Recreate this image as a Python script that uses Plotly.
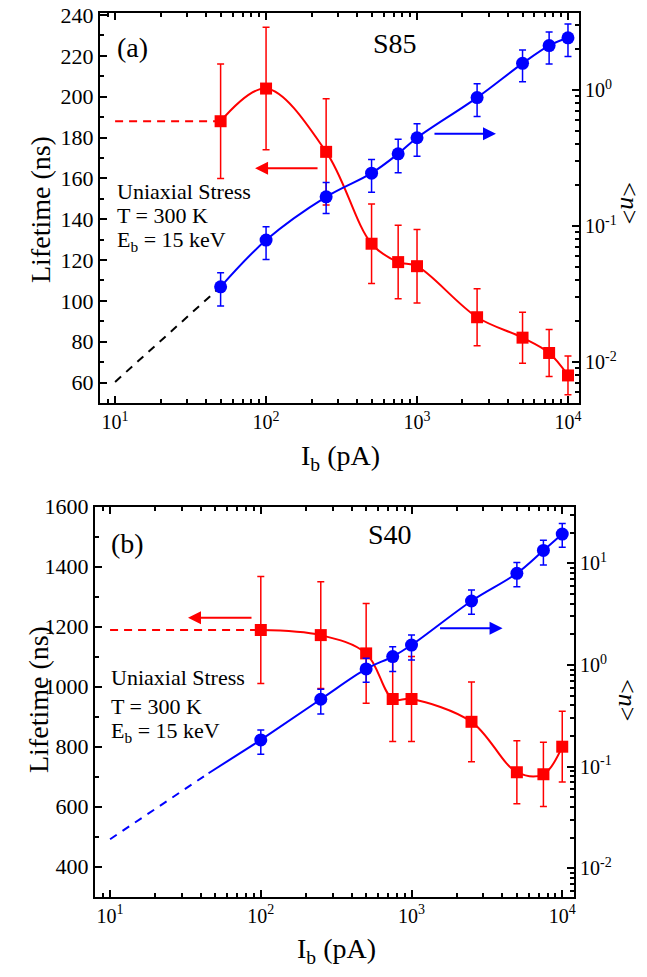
import plotly.graph_objects as go

W, H = 647, 977
RED = "#FF0000"
BLUE = "#0000FF"
FONT = "Liberation Serif"

# ---------------- Panel (a): S85 ----------------
ib_a = [50, 100, 250, 500, 750, 1000, 2500, 5000, 7500, 10000]
life_a = [188, 204, 173, 128, 119, 117, 92, 82, 74.5, 63.5]
life_a_err = [28, 30, 26, 19.5, 18, 18, 14, 12.5, 11.5, 9.5]
n_a = [0.0358, 0.0789, 0.164, 0.245, 0.34, 0.446, 0.88, 1.57, 2.12, 2.42]
n_a_up = [0.0096, 0.020, 0.045, 0.064, 0.094, 0.12, 0.23, 0.40, 0.55, 0.63]
n_a_dn = [0.0099, 0.022, 0.040, 0.068, 0.093, 0.12, 0.24, 0.42, 0.57, 0.66]
life_a_ext_x = [10, 50]
life_a_ext_y = [188, 188]
n_a_ext_x = [10, 50]
n_a_ext_y = [0.00716, 0.0358]

# ---------------- Panel (b): S40 ----------------
ib_b = [100, 250, 500, 750, 1000, 2500, 5000, 7500, 10000]
life_b = [1189, 1172, 1111, 959, 959, 883, 715, 708, 800]
life_b_err = [178, 178, 166, 142, 142, 133, 105, 107, 118]
n_b = [0.183, 0.46, 0.914, 1.21, 1.57, 4.26, 7.98, 13.4, 19.4]
n_b_up = [0.046, 0.117, 0.25, 0.30, 0.40, 1.2, 2.2, 3.5, 5.3]
n_b_dn = [0.051, 0.13, 0.24, 0.35, 0.45, 1.1, 2.1, 3.8, 5.05]
life_b_ext_x = [10, 100]
life_b_ext_y = [1189, 1189]
n_b_ext_x = [10, 45]
n_b_ext_y = [0.0193, 0.086]
n_b_fit_x = [45, 100]
n_b_fit_y = [0.086, 0.183]

x_tickvals = [10, 100, 1000, 10000]
x_ticktext = ["10<sup>1</sup>", "10<sup>2</sup>", "10<sup>3</sup>", "10<sup>4</sup>"]
n_tickvals_a = [0.01, 0.1, 1]
n_ticktext_a = ["10<sup>-2</sup>", "10<sup>-1</sup>", "10<sup>0</sup>"]
n_tickvals_b = [0.01, 0.1, 1, 10]
n_ticktext_b = ["10<sup>-2</sup>", "10<sup>-1</sup>", "10<sup>0</sup>", "10<sup>1</sup>"]


def log_minor(lo, hi):
    out = []
    for e in range(lo, hi):
        for m in range(2, 10):
            out.append(m * 10 ** e)
    return out


def px(xp):
    return xp / W


def py(yp):
    return 1 - yp / H


fig = go.Figure()

# ---- panel a traces ----
fig.add_trace(go.Scatter(x=life_a_ext_x, y=life_a_ext_y, mode="lines",
                         line=dict(color=RED, width=2, dash="8px,6px"),
                         xaxis="x", yaxis="y", showlegend=False))
fig.add_trace(go.Scatter(x=ib_a, y=life_a, mode="lines+markers",
                         line=dict(color=RED, width=2, shape="spline", smoothing=1),
                         marker=dict(symbol="square", size=12, color=RED),
                         error_y=dict(type="data", array=life_a_err, color=RED,
                                      thickness=1.5, width=3.5),
                         xaxis="x", yaxis="y", showlegend=False))
fig.add_trace(go.Scatter(x=n_a_ext_x, y=n_a_ext_y, mode="lines",
                         line=dict(color="black", width=2, dash="8px,7px"),
                         xaxis="x", yaxis="y2", showlegend=False))
fig.add_trace(go.Scatter(x=ib_a, y=n_a, mode="lines+markers",
                         line=dict(color=BLUE, width=2, shape="spline", smoothing=1),
                         marker=dict(symbol="circle", size=13, color=BLUE),
                         error_y=dict(type="data", symmetric=False, array=n_a_up,
                                      arrayminus=n_a_dn, color=BLUE,
                                      thickness=1.5, width=3.5),
                         xaxis="x", yaxis="y2", showlegend=False))

# ---- panel b traces ----
fig.add_trace(go.Scatter(x=life_b_ext_x, y=life_b_ext_y, mode="lines",
                         line=dict(color=RED, width=2, dash="8px,6px"),
                         xaxis="x2", yaxis="y3", showlegend=False))
fig.add_trace(go.Scatter(x=ib_b, y=life_b, mode="lines+markers",
                         line=dict(color=RED, width=2, shape="spline", smoothing=1),
                         marker=dict(symbol="square", size=12, color=RED),
                         error_y=dict(type="data", array=life_b_err, color=RED,
                                      thickness=1.5, width=3.5),
                         xaxis="x2", yaxis="y3", showlegend=False))
fig.add_trace(go.Scatter(x=n_b_ext_x, y=n_b_ext_y, mode="lines",
                         line=dict(color=BLUE, width=2, dash="8px,7px"),
                         xaxis="x2", yaxis="y4", showlegend=False))
fig.add_trace(go.Scatter(x=n_b_fit_x, y=n_b_fit_y, mode="lines",
                         line=dict(color=BLUE, width=2),
                         xaxis="x2", yaxis="y4", showlegend=False))
fig.add_trace(go.Scatter(x=ib_b, y=n_b, mode="lines+markers",
                         line=dict(color=BLUE, width=2, shape="spline", smoothing=1),
                         marker=dict(symbol="circle", size=13, color=BLUE),
                         error_y=dict(type="data", symmetric=False, array=n_b_up,
                                      arrayminus=n_b_dn, color=BLUE,
                                      thickness=1.5, width=3.5),
                         xaxis="x2", yaxis="y4", showlegend=False))

lin_font = dict(family=FONT, size=22, color="black")
log_font = dict(family=FONT, size=20, color="black")
common = dict(showline=True, linewidth=2, linecolor="black", showgrid=False,
              zeroline=False, ticks="inside", tickwidth=1.5, ticklen=7,
              tickcolor="black", automargin=False)

xminor = dict(tickvals=log_minor(0, 4), ticks="inside", ticklen=4,
              tickwidth=1.5, tickcolor="black")

fig.update_layout(
    width=W, height=H, autosize=False,
    margin=dict(l=0, r=0, t=0, b=0, pad=0),
    paper_bgcolor="white", plot_bgcolor="white",
    font=dict(family=FONT, color="black"),
    xaxis=dict(domain=[px(100), px(579)], anchor="y", type="log",
               range=[0.90, 4.073], tickmode="array", tickvals=x_tickvals,
               ticktext=x_ticktext, mirror="ticks", minor=xminor,
               tickfont=log_font, **common),
    yaxis=dict(domain=[py(403), py(13)], anchor="x", range=[50, 241],
               dtick=20, tick0=0,
               minor=dict(dtick=10, ticks="inside", ticklen=4, tickwidth=1.5,
                          tickcolor="black"),
               tickfont=lin_font, **common),
    yaxis2=dict(overlaying="y", side="right", anchor="x", type="log",
                range=[-2.30, 0.566], tickmode="array", tickvals=n_tickvals_a,
                ticktext=n_ticktext_a,
                minor=dict(tickvals=log_minor(-3, 1), ticks="inside", ticklen=4,
                           tickwidth=1.5, tickcolor="black"),
                tickfont=log_font, **common),
    xaxis2=dict(domain=[px(95), px(574)], anchor="y3", type="log",
                range=[0.90, 4.078], tickmode="array", tickvals=x_tickvals,
                ticktext=x_ticktext, mirror="ticks", minor=xminor,
                tickfont=log_font, **common),
    yaxis3=dict(domain=[py(896.7), py(506.7)], anchor="x2", range=[300, 1600],
                dtick=200, tick0=0,
                minor=dict(dtick=100, ticks="inside", ticklen=4, tickwidth=1.5,
                           tickcolor="black"),
                tickfont=lin_font, **common),
    yaxis4=dict(overlaying="y3", side="right", anchor="x2", type="log",
                range=[-2.28, 1.557], tickmode="array", tickvals=n_tickvals_b,
                ticktext=n_ticktext_b,
                minor=dict(tickvals=log_minor(-3, 2), ticks="inside", ticklen=4,
                           tickwidth=1.5, tickcolor="black"),
                tickfont=log_font, **common),
)

ann = []


def txt(x, y, s, size=20, xanchor="center", angle=0):
    ann.append(dict(x=px(x), y=py(y), xref="paper", yref="paper", text=s,
                    showarrow=False, xanchor=xanchor, yanchor="middle",
                    textangle=angle, borderpad=0,
                    font=dict(family=FONT, size=size, color="black")))


# panel a texts
txt(132, 47, "(a)", 28)
txt(395, 43, "S85", 28)
txt(116, 191, "Uniaxial Stress", 22, "left")
txt(116, 216, "T = 300 K", 22, "left")
txt(116, 241, "E<sub>b</sub> = 15 keV", 22, "left")
txt(40, 210, "Lifetime (ns)", 28, angle=-90)
txt(630, 203, "&lt;<i>n</i>&gt;", 26, angle=90)
txt(340, 457, "I<sub>b</sub> (pA)", 28)

# panel b texts
txt(127, 543, "(b)", 28)
txt(390, 534, "S40", 28)
txt(110, 677, "Uniaxial Stress", 22, "left")
txt(110, 706, "T = 300 K", 22, "left")
txt(110, 732, "E<sub>b</sub> = 15 keV", 22, "left")
txt(38, 700, "Lifetime (ns)", 28, angle=-90)
txt(628, 700, "&lt;<i>n</i>&gt;", 26, angle=90)
txt(336, 950, "I<sub>b</sub> (pA)", 28)

# arrows
ann.append(dict(x=1.927, y=165, xref="x", yref="y", text="", showarrow=True,
                ax=64, ay=0, arrowhead=2, arrowsize=1.3, arrowwidth=2,
                arrowcolor=RED))
ann.append(dict(x=3.523, y=-0.321, xref="x", yref="y2", text="", showarrow=True,
                ax=-63, ay=0, arrowhead=2, arrowsize=1.3, arrowwidth=2,
                arrowcolor=BLUE))
ann.append(dict(x=1.517, y=1230, xref="x2", yref="y3", text="", showarrow=True,
                ax=65, ay=0, arrowhead=2, arrowsize=1.3, arrowwidth=2,
                arrowcolor=RED))
ann.append(dict(x=3.604, y=0.361, xref="x2", yref="y4", text="", showarrow=True,
                ax=-64, ay=0, arrowhead=2, arrowsize=1.3, arrowwidth=2,
                arrowcolor=BLUE))

fig.update_layout(annotations=ann)
fig.write_html("out.html", config={"displayModeBar": False},
               post_script="document.body.style.margin='0';"
                           "document.body.style.padding='0';")
